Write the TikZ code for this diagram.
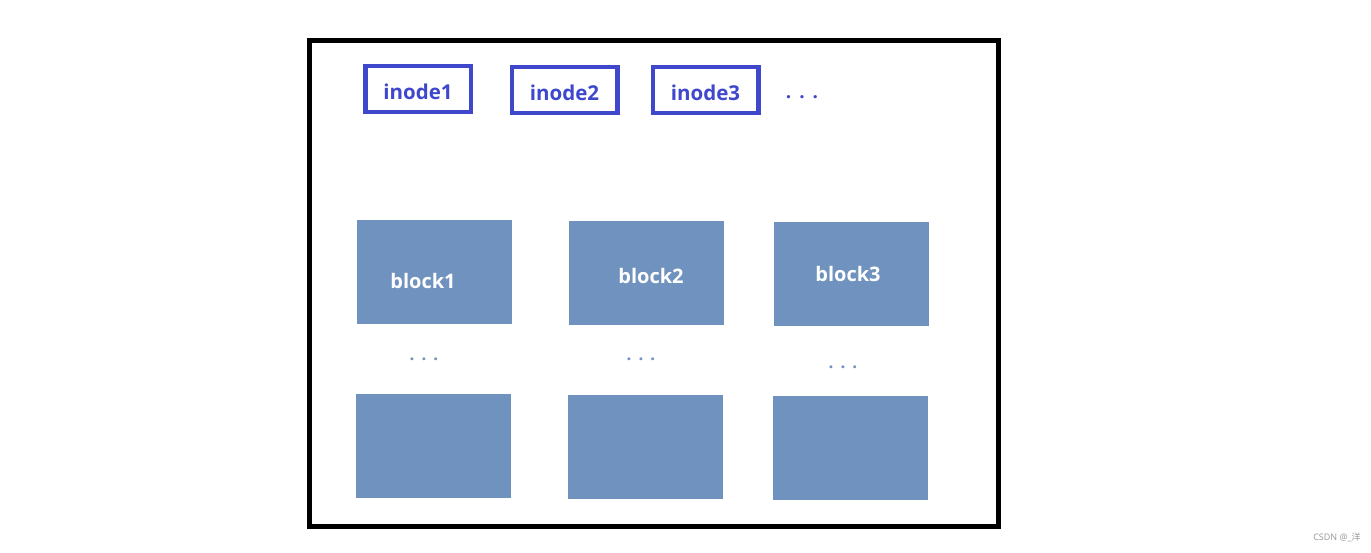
\documentclass[tikz,border=0pt]{standalone}
\usepackage{fontspec}
\setmainfont{Open Sans}
\newfontfamily\cjk{Noto Sans CJK SC}
\definecolor{inodeblue}{RGB}{63,72,204}
\definecolor{blockfill}{RGB}{112,146,190}
\definecolor{wmgrey}{RGB}{150,150,150}
\begin{document}
\begin{tikzpicture}[x=1pt,y=-1pt,
  inodebox/.style={draw=inodeblue, line width=4.5pt, minimum width=105.5pt, minimum height=46pt, inner sep=0pt, text height=21pt, text depth=0pt, text=inodeblue, font=\bfseries\fontsize{20.5}{20.5}\selectfont},
  blockbox/.style={fill=blockfill, minimum width=155pt, minimum height=104pt, inner sep=0pt},
  blocklabel/.style={text=white, inner sep=0pt, font=\bfseries\fontsize{20}{20}\selectfont},
  topdots/.style={text=inodeblue, inner sep=0pt, font=\bfseries\fontsize{19}{19}\selectfont},
  lowdots/.style={text=blockfill, inner sep=0pt, font=\bfseries\fontsize{17}{17}\selectfont}]
\useasboundingbox[fill=white] (0,0) rectangle (1371,552);
% outer frame
\node (frame) [draw=black, line width=5pt, minimum width=688.5pt, minimum height=486pt, inner sep=0pt] at (653.75,283) {};
% inodes
\node (i1) [inodebox] at (418,89) {inode1};
\node (i2) [inodebox] at (564.5,90) {inode2};
\node (i3) [inodebox] at (705.5,90) {inode3};
\node (idots) [topdots] at (802,97) {.\hspace{8pt}.\hspace{8pt}.};
% blocks top row
\node (b1) [blockbox] at (434.5,272) {};
\node (b2) [blockbox] at (646.5,273) {};
\node (b3) [blockbox] at (851.5,274) {};
\node (b1l) [blocklabel] at (423,281) {block1};
\node (b2l) [blocklabel] at (651,276) {block2};
\node (b3l) [blocklabel] at (848,274) {block3};
% dots
\node (d1) [lowdots] at (424,359) {.\hspace{7pt}.\hspace{7pt}.};
\node (d2) [lowdots] at (641,359) {.\hspace{7pt}.\hspace{7pt}.};
\node (d3) [lowdots] at (843,367) {.\hspace{7pt}.\hspace{7pt}.};
% blocks bottom row
\node (c1) [blockbox] at (433.5,446) {};
\node (c2) [blockbox] at (645.5,447) {};
\node (c3) [blockbox] at (850.5,448) {};
% watermark
\node (wm) [text=wmgrey, inner sep=0pt, font=\fontsize{9}{9}\selectfont] at (1337,537) {CSDN @\_{\cjk 洋}};
\end{tikzpicture}
\end{document}
